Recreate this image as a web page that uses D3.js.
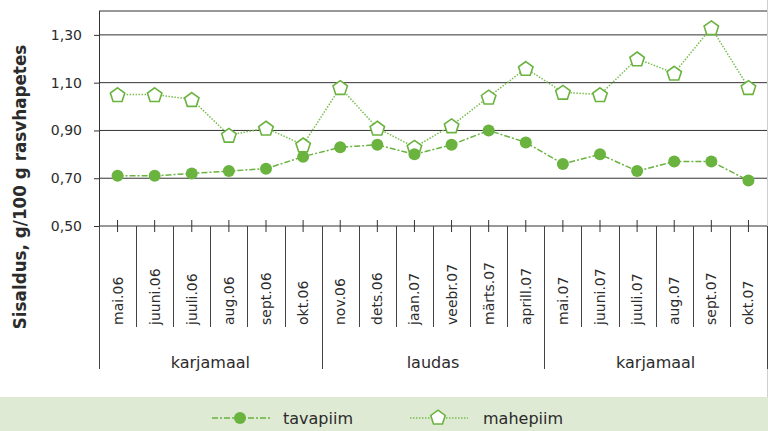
<!DOCTYPE html>
<html>
<head>
<meta charset="utf-8">
<script src="https://cdn.jsdelivr.net/npm/d3@7"></script>
<style>
  html, body { margin: 0; padding: 0; background: #ffffff; }
  svg { display: block; }
  text { font-family: "DejaVu Sans", Verdana, sans-serif; fill: #2b2b2b; }
</style>
</head>
<body>
<svg id="chart" width="768" height="431"></svg>
<script>
const months = ["mai.06","juuni.06","juuli.06","aug.06","sept.06","okt.06",
                "nov.06","dets.06","jaan.07","veebr.07","märts.07","aprill.07",
                "mai.07","juuni.07","juuli.07","aug.07","sept.07","okt.07"];
const groups = ["karjamaal","laudas","karjamaal"];
const groupSizes = [6, 6, 6];
const tavapiim = [0.71,0.71,0.72,0.73,0.74,0.79,0.83,0.84,0.80,0.84,0.90,0.85,0.76,0.80,0.73,0.77,0.77,0.69];
const mahepiim = [1.05,1.05,1.03,0.88,0.91,0.84,1.08,0.91,0.83,0.92,1.04,1.16,1.06,1.05,1.20,1.14,1.33,1.08];
const yTicks = [0.50,0.70,0.90,1.10,1.30];
const yMax = 1.40;
const seriesNames = ["tavapiim","mahepiim"];
const yTitle = "Sisaldus, g/100 g rasvhapetes";

(function () {
const green = "#6ab33f";
const svg = d3.select("#chart");

const pLeft = 99, pRight = 767, pTop = 11, axisY = 226;
const x = d3.scaleBand().domain(months).range([pLeft, pRight]).paddingInner(0).paddingOuter(0);
const y = d3.scaleLinear().domain([yTicks[0], yMax]).range([axisY, pTop]);
const cx = d => x(d) + x.bandwidth() / 2;
const fmt = v => d3.format(".2f")(v).replace(".", ",");

// right light border
svg.append("line").attr("x1", 767.5).attr("x2", 767.5).attr("y1", 0).attr("y2", 397)
  .attr("stroke", "#cfcfcf").attr("stroke-width", 1);

// top line
svg.append("line").attr("x1", pLeft).attr("x2", pRight).attr("y1", y(yMax)).attr("y2", y(yMax))
  .attr("stroke", "#333").attr("stroke-width", 1);

// y axis with gridlines
const yAxis = d3.axisLeft(y).tickValues(yTicks).tickFormat(fmt).tickSize(5).tickPadding(12);
const gy = svg.append("g").attr("transform", `translate(${pLeft},0)`).call(yAxis);
gy.select(".domain").remove();
gy.selectAll(".tick line").attr("stroke", "#333");
gy.selectAll(".tick text").style("font-size", "14px").attr("fill", "#2b2b2b")
  .style("font-family", '"DejaVu Sans", sans-serif');
svg.append("g").selectAll("line").data(yTicks).join("line")
  .attr("x1", pLeft).attr("x2", pRight).attr("y1", d => y(d)).attr("y2", d => y(d))
  .attr("stroke", "#333").attr("stroke-width", 1);
// y axis line
svg.append("line").attr("x1", pLeft + 0.5).attr("x2", pLeft + 0.5).attr("y1", y(yMax)).attr("y2", axisY)
  .attr("stroke", "#333");

// x axis: cross ticks at category centers
const xAxis = d3.axisBottom(x).tickSizeInner(6).tickSizeOuter(0).tickFormat("");
const gx = svg.append("g").attr("transform", `translate(0,${axisY})`).call(xAxis);
gx.select(".domain").remove();
gx.selectAll(".tick line").attr("y1", -6).attr("y2", 6).attr("stroke", "#333");

// category separators
const bounds = months.map(m => x(m)).concat([pRight]);
const groupBounds = [0];
groupSizes.reduce((a, s) => { groupBounds.push(a + s); return a + s; }, 0);
svg.append("g").selectAll("line").data(bounds).join("line")
  .attr("x1", d => Math.round(d) + 0.5).attr("x2", d => Math.round(d) + 0.5)
  .attr("y1", axisY).attr("y2", (d, i) => groupBounds.includes(i) ? 369 : 327)
  .attr("stroke", "#444");

// category labels
svg.append("g").selectAll("text").data(months).join("text")
  .attr("transform", d => `translate(${cx(d) + 5},325) rotate(-90)`)
  .attr("text-anchor", "start")
  .style("font-size", "14px")
  .text(d => d);

// group labels
svg.append("g").selectAll("text").data(groups).join("text")
  .attr("x", (d, i) => (bounds[groupBounds[i]] + bounds[groupBounds[i + 1]]) / 2)
  .attr("y", 368)
  .attr("text-anchor", "middle")
  .style("font-size", "16px")
  .text(d => d);

// axis title
svg.append("text")
  .attr("transform", `translate(26,187) rotate(-90)`)
  .attr("text-anchor", "middle")
  .style("font-size", "16.8px").style("font-weight", "bold")
  .style("font-family", '"DejaVu Sans", sans-serif')
  .text(yTitle);

// pentagon path
function pentagon(px, py, R) {
  const pts = d3.range(5).map(k => {
    const a = -Math.PI / 2 + k * 2 * Math.PI / 5;
    return [px + R * Math.cos(a), py + R * Math.sin(a) + 0.8];
  });
  return d3.line()(pts) + "Z";
}

// lines
const lineGen = d3.line().x((d, i) => cx(months[i])).y(d => y(d));
svg.append("path").datum(mahepiim).attr("d", lineGen)
  .attr("fill", "none").attr("stroke", "#78bd4e").attr("stroke-width", 1.5)
  .attr("stroke-dasharray", "1.5,1.5");
svg.append("path").datum(tavapiim).attr("d", lineGen)
  .attr("fill", "none").attr("stroke", green).attr("stroke-width", 1.5)
  .attr("stroke-dasharray", "6,2,2,2");

svg.append("g").selectAll("path").data(mahepiim).join("path")
  .attr("d", (d, i) => pentagon(cx(months[i]), y(d), 7.6))
  .attr("fill", "#fff").attr("stroke", green).attr("stroke-width", 1.6);
svg.append("g").selectAll("circle").data(tavapiim).join("circle")
  .attr("cx", (d, i) => cx(months[i])).attr("cy", d => y(d)).attr("r", 6)
  .attr("fill", green);

// legend
svg.append("rect").attr("x", 0).attr("y", 397).attr("width", 768).attr("height", 34)
  .attr("fill", "#dfead5");
const lg = svg.append("g");
lg.append("line").attr("x1", 212).attr("x2", 270).attr("y1", 418).attr("y2", 418)
  .attr("stroke", green).attr("stroke-width", 1.5).attr("stroke-dasharray", "6,2,2,2");
lg.append("circle").attr("cx", 240).attr("cy", 418).attr("r", 6).attr("fill", green);
lg.append("text").attr("x", 283).attr("y", 424).style("font-size", "16px").text(seriesNames[0]);
lg.append("line").attr("x1", 410).attr("x2", 468).attr("y1", 418).attr("y2", 418)
  .attr("stroke", "#78bd4e").attr("stroke-width", 1.5).attr("stroke-dasharray", "1.5,1.5");
lg.append("path").attr("d", pentagon(438, 417, 7.6)).attr("fill", "#fff")
  .attr("stroke", green).attr("stroke-width", 1.6);
lg.append("text").attr("x", 483).attr("y", 424).style("font-size", "16px").text(seriesNames[1]);
})();
</script>
</body>
</html>
